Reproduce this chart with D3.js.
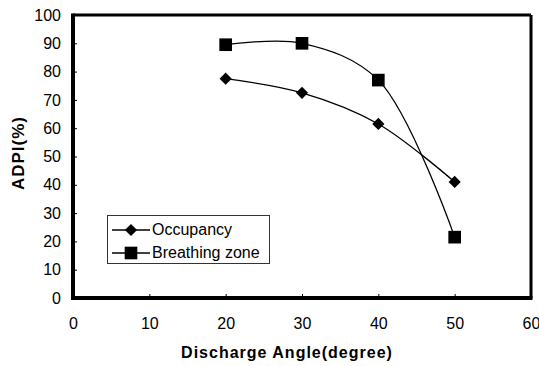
<!DOCTYPE html>
<html><head><meta charset="utf-8">
<script src="https://cdn.jsdelivr.net/npm/d3@7/dist/d3.min.js"></script>
<style>body{margin:0;background:#fff}svg{display:block}</style>
</head><body><svg id="c" width="539" height="366"></svg>
<script>
const angles = [20, 30, 40, 50];
const occupancy = [77.5, 72.5, 61.5, 41];
const breathing = [89.5, 90, 77, 21.5];
const xTicks = [0, 10, 20, 30, 40, 50, 60];
const yTicks = [0, 10, 20, 30, 40, 50, 60, 70, 80, 90, 100];
const seriesNames = ["Occupancy", "Breathing zone"];

const svg = d3.select("#c");
const L = 73, R = 531, T = 15, B = 298;
const x = d3.scaleLinear().domain([0, 60]).range([L, R]);
const y = d3.scaleLinear().domain([0, 100]).range([B, T]);
const tickFont = "'Liberation Sans Narrow','Liberation Sans',Arial,sans-serif";

// inner ticks
svg.append("g").attr("transform", `translate(0,${B})`)
  .call(d3.axisBottom(x).tickValues(xTicks).tickSizeInner(-4).tickSizeOuter(0).tickPadding(20).tickFormat(d3.format("d")))
  .call(g => g.select(".domain").remove())
  .call(g => g.selectAll("text").attr("font-family", tickFont).attr("font-size", 16).attr("fill", "#000"));
svg.append("g").attr("transform", `translate(${L},0)`)
  .call(d3.axisLeft(y).tickValues(yTicks).tickSizeInner(-4).tickSizeOuter(0).tickPadding(12).tickFormat(d3.format("d")))
  .call(g => g.select(".domain").remove())
  .call(g => g.selectAll("text").attr("font-family", tickFont).attr("font-size", 16).attr("fill", "#000"));

// frame
svg.append("line").attr("x1", L).attr("x2", R).attr("y1", T).attr("y2", T).attr("stroke", "#000").attr("stroke-width", 3);
svg.append("line").attr("x1", R).attr("x2", R).attr("y1", T).attr("y2", B).attr("stroke", "#000").attr("stroke-width", 3);
svg.append("line").attr("x1", L).attr("x2", R + 1.5).attr("y1", B).attr("y2", B).attr("stroke", "#000").attr("stroke-width", 4);
svg.append("line").attr("x1", L).attr("x2", L).attr("y1", T - 1.5).attr("y2", B + 2).attr("stroke", "#000").attr("stroke-width", 4);

const line = d3.line().x(d => x(d[0])).y(d => y(d[1])).curve(d3.curveCatmullRom.alpha(0.5));
const diamond = d3.symbol().type(d3.symbolDiamond2).size(95);
const square = d3.symbol().type(d3.symbolSquare).size(160);

function drawSeries(vals, sym) {
  const pts = angles.map((a, i) => [a, vals[i]]);
  svg.append("path").attr("d", line(pts)).attr("fill", "none").attr("stroke", "#000").attr("stroke-width", 1.3);
  svg.append("g").selectAll("path").data(pts).join("path")
    .attr("transform", d => `translate(${x(d[0])},${y(d[1])})`)
    .attr("d", sym).attr("fill", "#000");
}
drawSeries(occupancy, diamond);
drawSeries(breathing, square);

// legend
const lg = svg.append("g");
lg.append("rect").attr("x", 107.5).attr("y", 215.5).attr("width", 162).attr("height", 48)
  .attr("fill", "#fff").attr("stroke", "#333").attr("stroke-width", 1);
const syms = [diamond, square];
seriesNames.forEach((n, i) => {
  const yy = 230 + i * 23;
  lg.append("line").attr("x1", 112).attr("x2", 150).attr("y1", yy).attr("y2", yy).attr("stroke", "#000").attr("stroke-width", 1.3);
  lg.append("path").attr("transform", `translate(131,${yy})`).attr("d", syms[i]).attr("fill", "#000");
  lg.append("text").attr("x", 152).attr("y", yy + 5).attr("font-family", tickFont).attr("font-size", 16).text(n);
});

// axis titles
svg.append("text").attr("x", 287).attr("y", 358).attr("text-anchor", "middle")
  .attr("font-family", "'Liberation Sans',Arial,sans-serif").attr("font-weight", "bold").attr("font-size", 16)
  .attr("letter-spacing", 1).text("Discharge Angle(degree)");
svg.append("text").attr("transform", "translate(24,153) rotate(-90)").attr("text-anchor", "middle")
  .attr("font-family", "'Liberation Sans',Arial,sans-serif").attr("font-weight", "bold").attr("font-size", 17)
  .attr("letter-spacing", 1).text("ADPI(%)");
</script></body></html>
